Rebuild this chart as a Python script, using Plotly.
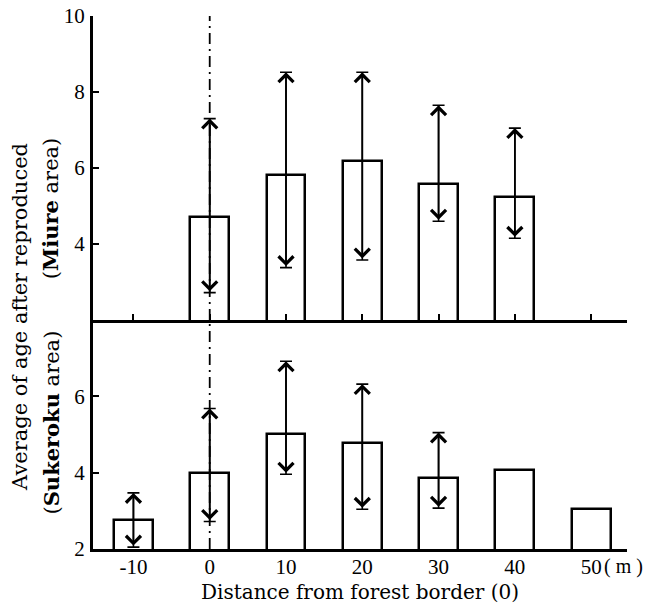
import plotly.graph_objects as go

# ---- data ----
miure_x = [0, 10, 20, 30, 40]
miure_mean = [4.72, 5.82, 6.18, 5.58, 5.24]
miure_hi = [7.30, 8.52, 8.52, 7.65, 7.05]
miure_lo = [2.72, 3.38, 3.58, 4.60, 4.15]

suke_x = [-10, 0, 10, 20, 30, 40, 50]
suke_mean = [2.75, 4.00, 5.00, 4.78, 3.85, 4.08, 3.05]
suke_err_x = [-10, 0, 10, 20, 30]
suke_hi = [3.47, 5.68, 6.92, 6.32, 5.05]
suke_lo = [2.05, 2.72, 3.96, 3.04, 3.07]

x_ticks = [-10, 0, 10, 20, 30, 40, 50]
x_ticktext = ["-10", "0", "10", "20", "30", "40", "50"]
top_yticks = [4, 6, 8, 10]
bot_yticks = [2, 4, 6]

SERIF = "Liberation Serif"
TXT = "DejaVu Serif"

fig = go.Figure()

def add_panel(xs, means, ex, hi, lo, xa, ya):
    fig.add_trace(go.Bar(
        x=xs, y=means, width=5.1, xaxis=xa, yaxis=ya,
        marker=dict(color="white", line=dict(color="black", width=2.5)),
        showlegend=False))
    mean_at = {x: m for x, m in zip(xs, means)}
    em = [mean_at[x] for x in ex]
    fig.add_trace(go.Scatter(
        x=ex, y=em, mode="markers", xaxis=xa, yaxis=ya,
        marker=dict(size=0.1, color="black", opacity=0),
        error_y=dict(type="data", symmetric=False,
                     array=[h - m for h, m in zip(hi, em)],
                     arrayminus=[m - l for m, l in zip(em, lo)],
                     color="black", thickness=1.6, width=6),
        showlegend=False))
    for x, h, l in zip(ex, hi, lo):
        fig.add_annotation(
            x=x, y=h, ax=x, ay=l, xref=xa, yref=ya, axref=xa, ayref=ya,
            text="", showarrow=True, arrowside="end+start",
            arrowhead=4, startarrowhead=4, arrowsize=1.7, startarrowsize=1.7,
            arrowwidth=1.7, arrowcolor="black", standoff=0, startstandoff=0)

add_panel(miure_x, miure_mean, miure_x, miure_hi, miure_lo, "x", "y")
add_panel(suke_x, suke_mean, suke_err_x, suke_hi, suke_lo, "x2", "y2")

# dash-dot vertical line at forest border
for xr, yr in (("x", "y domain"), ("x2", "y2 domain")):
    fig.add_shape(type="line", xref=xr, yref=yr, x0=0, x1=0, y0=0, y1=1,
                  line=dict(color="black", width=1.8, dash="11px,5px,2px,5px"))

split = 0.4296
axis_common = dict(showgrid=False, zeroline=False, showline=True,
                   linecolor="black", linewidth=3, automargin=False)

fig.update_layout(
    width=646, height=608,
    margin=dict(l=93, r=19, t=16, b=59),
    paper_bgcolor="white", plot_bgcolor="white",
    bargap=0,
    xaxis=dict(domain=[0, 1], range=[-15.3, 54.7], anchor="y",
               tickvals=x_ticks, showticklabels=False,
               ticks="inside", ticklen=6, tickwidth=2, tickcolor="black",
               **axis_common),
    yaxis=dict(domain=[split, 1], range=[2, 10], anchor="x",
               tickvals=top_yticks, ticks="inside", ticklen=6, tickwidth=2,
               tickcolor="black", ticklabelstandoff=1,
               tickfont=dict(family=SERIF, size=21, color="black"),
               **axis_common),
    xaxis2=dict(domain=[0, 1], range=[-15.3, 54.7], anchor="y2",
                tickvals=x_ticks, ticktext=x_ticktext, ticks="",
                ticklabelstandoff=-3,
                tickfont=dict(family=SERIF, size=21, color="black"),
                **axis_common),
    yaxis2=dict(domain=[0, split], range=[2, 8], anchor="x2",
                tickvals=bot_yticks, ticks="inside", ticklen=6, tickwidth=2,
                tickcolor="black", ticklabelstandoff=1,
                tickfont=dict(family=SERIF, size=21, color="black"),
                **axis_common),
)

yfont = dict(family=TXT, size=21, color="black")
fig.add_annotation(xref="paper", yref="paper", x=-0.138, y=0.436,
                   text="Average of age after reproduced", textangle=-90,
                   showarrow=False, xanchor="center", yanchor="middle", font=yfont)
fig.add_annotation(xref="paper", yref="paper", x=-0.078, y=0.64,
                   text="(<b>Miure</b> area)", textangle=-90,
                   showarrow=False, xanchor="center", yanchor="middle", font=yfont)
fig.add_annotation(xref="paper", yref="paper", x=-0.078, y=0.238,
                   text="(<b>Sukeroku</b> area)", textangle=-90,
                   showarrow=False, xanchor="center", yanchor="middle", font=yfont)
fig.add_annotation(xref="paper", yref="paper", x=0.5, y=-0.081,
                   text="Distance from forest border (0)",
                   showarrow=False, xanchor="center", yanchor="middle",
                   font=dict(family=TXT, size=20, color="black"))
fig.add_annotation(xref="paper", yref="paper", x=0.994, y=-0.032,
                   text="( m )", showarrow=False, xanchor="center",
                   yanchor="middle", font=dict(family=SERIF, size=20, color="black"))

fig.write_html("out.html")
